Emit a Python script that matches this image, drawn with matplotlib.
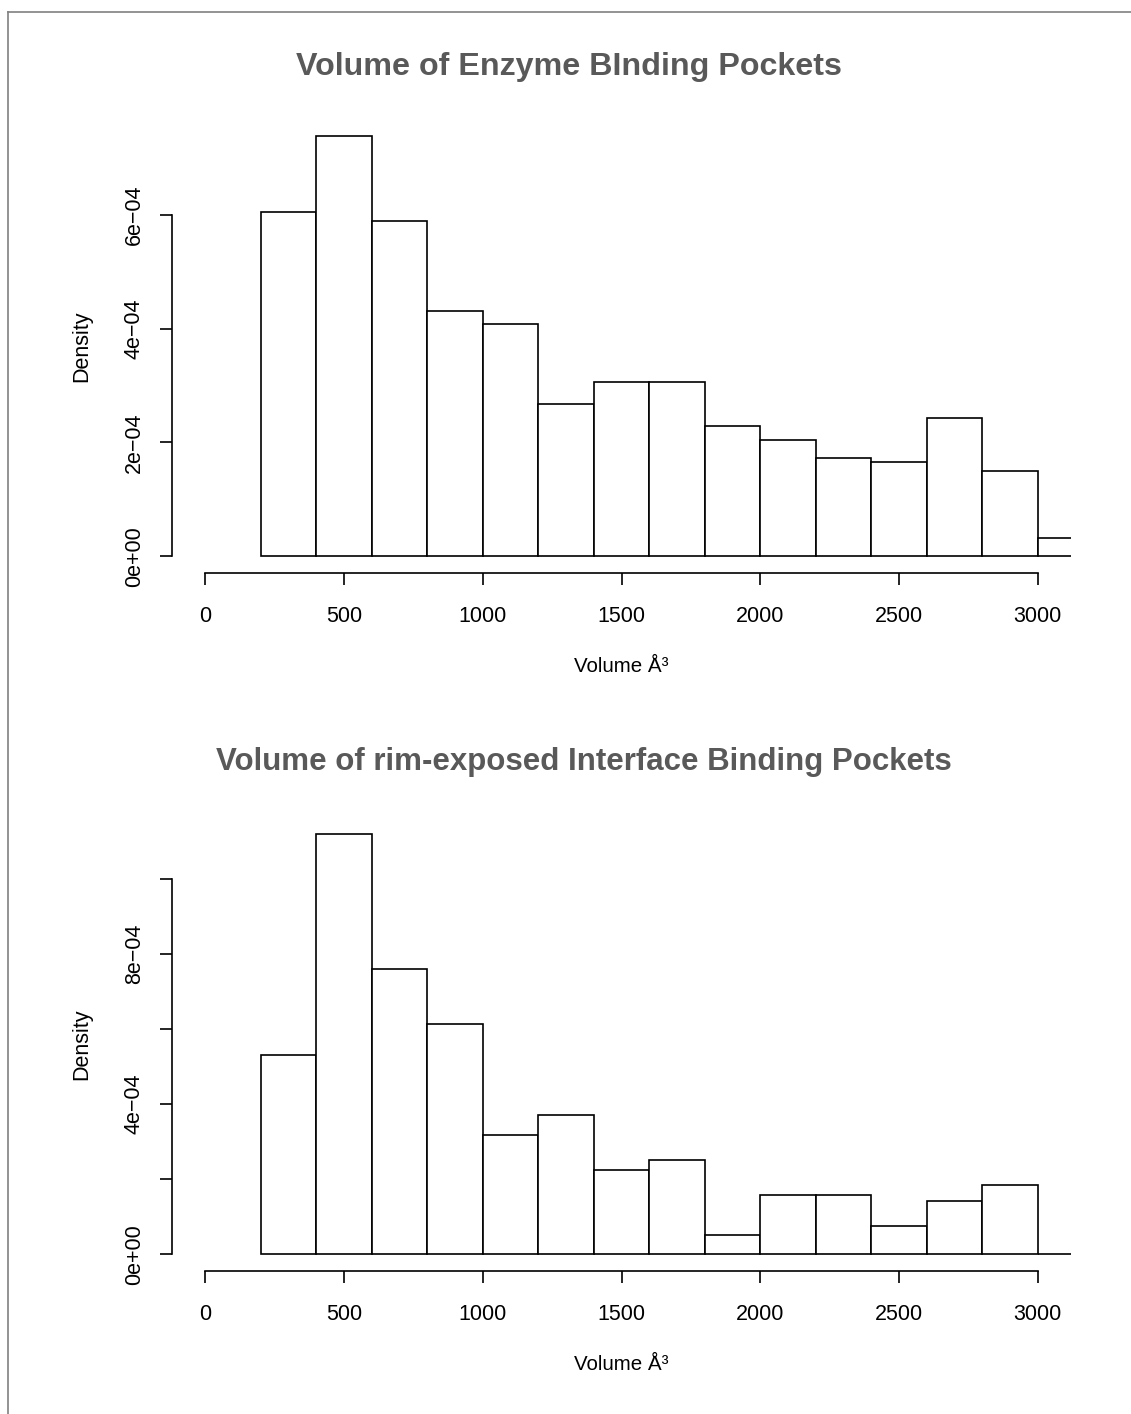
import matplotlib
matplotlib.use("Agg")
import matplotlib.pyplot as plt
from matplotlib.lines import Line2D

plt.rcParams['font.family'] = ['Liberation Sans', 'DejaVu Sans']

# histogram bins (Volume, Å^3) and densities
bin_edges = [200, 400, 600, 800, 1000, 1200, 1400, 1600, 1800, 2000,
             2200, 2400, 2600, 2800, 3000, 3200]

enzyme_density = [6.05e-4, 7.39e-4, 5.89e-4, 4.31e-4, 4.08e-4, 2.67e-4,
                  3.06e-4, 3.06e-4, 2.29e-4, 2.04e-4, 1.72e-4, 1.65e-4,
                  2.43e-4, 1.50e-4, 3.2e-5]

interface_density = [5.32e-4, 1.121e-3, 7.60e-4, 6.13e-4, 3.18e-4, 3.72e-4,
                     2.25e-4, 2.52e-4, 5.1e-5, 1.57e-4, 1.57e-4, 7.6e-5,
                     1.43e-4, 1.84e-4, 0.0]

x_ticks = [0, 500, 1000, 1500, 2000, 2500, 3000]

enzyme_yticks = [0, 2e-4, 4e-4, 6e-4]
enzyme_ylabels = ["0e+00", "2e\u221204", "4e\u221204", "6e\u221204"]

interface_yticks = [0, 2e-4, 4e-4, 6e-4, 8e-4, 1e-3]
interface_ylabels = ["0e+00", "", "4e\u221204", "", "8e\u221204", ""]

titles = ["Volume of Enzyme BInding Pockets",
          "Volume of rim-exposed Interface Binding Pockets"]

W, H = 1131, 1414
fig = plt.figure(figsize=(W / 100, H / 100), dpi=100)
fig.patch.set_facecolor("white")

# grey frame at top and left edge
fig.add_artist(Line2D([8 / W, 8 / W], [0, 1 - 12 / H], transform=fig.transFigure,
                      color="#808080", lw=1.2))
fig.add_artist(Line2D([8 / W, 1], [1 - 12 / H, 1 - 12 / H], transform=fig.transFigure,
                      color="#808080", lw=1.2))

lab_size = 15.5


def histo(ax, dens, yticks, ylabels):
    lefts = bin_edges[:-1]
    widths = [b - a for a, b in zip(bin_edges[:-1], bin_edges[1:])]
    ax.bar(lefts, dens, width=widths, align="edge", color="white",
           edgecolor="black", linewidth=1.2)
    ymax = max(dens)
    ax.set_xlim(-120, 3120)
    ax.set_ylim(-0.04 * ymax, 1.04 * ymax)
    for s in ["top", "right"]:
        ax.spines[s].set_visible(False)
    ax.spines["left"].set_bounds(0, yticks[-1])
    ax.spines["bottom"].set_bounds(0, 3000)
    ax.spines["left"].set_linewidth(1.2)
    ax.spines["bottom"].set_linewidth(1.2)
    ax.set_xticks(x_ticks)
    ax.set_xticklabels([str(t) for t in x_ticks], fontsize=lab_size)
    ax.set_yticks(yticks)
    ax.set_yticklabels(ylabels, fontsize=lab_size, rotation=90, va="center")
    ax.tick_params(axis="both", direction="out", length=8.6, width=1.2)
    ax.tick_params(axis="x", pad=15)
    ax.tick_params(axis="y", pad=11)
    ax.set_xlabel("Volume Å³", fontsize=lab_size * 0.95, labelpad=22)
    ax.set_ylabel("Density", fontsize=lab_size, labelpad=23)


ax1 = fig.add_axes([172 / W, 1 - 573 / H, 899 / W, 454 / H])
histo(ax1, enzyme_density, enzyme_yticks, enzyme_ylabels)

ax2 = fig.add_axes([172 / W, 1 - 1271 / H, 899 / W, 454 / H])
histo(ax2, interface_density, interface_yticks, interface_ylabels)

fig.text(569 / W, 1 - 67 / H, titles[0], ha="center", va="center",
         fontsize=23.2, fontweight="bold", color="#595959")
fig.text(584 / W, 1 - 762 / H, titles[1], ha="center", va="center",
         fontsize=22.5, fontweight="bold", color="#595959")

fig.savefig("out.png", dpi=100, facecolor="white")
